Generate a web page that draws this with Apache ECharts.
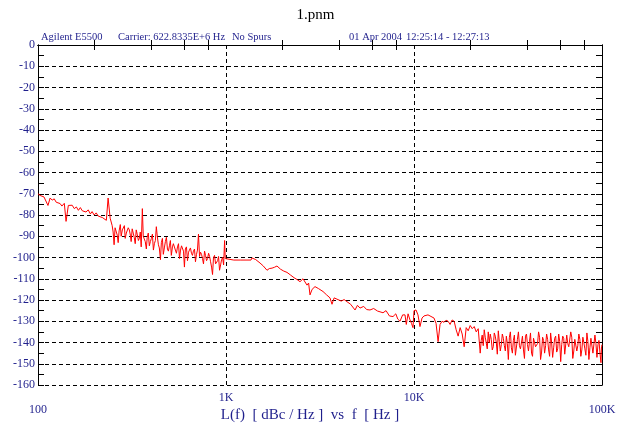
<!DOCTYPE html>
<html>
<head>
<meta charset="utf-8">
<title>1.pnm</title>
<script src="https://cdn.jsdelivr.net/npm/echarts@6/dist/echarts.min.js"></script>
<style>
  html, body { margin: 0; padding: 0; background: #fff; }
  #chart { width: 631px; height: 434px; }
</style>
</head>
<body>
<div id="chart"></div>
<script>
// offset frequency [Hz] and L(f) [dBc/Hz] in pieces
const freqLow = [100, 102.5, 105, 107.6, 110, 113, 116, 119, 122, 125,
  128, 131, 134, 138, 141, 145, 148, 152, 156, 160,
  164, 168, 172, 176, 180, 185, 190, 194, 199, 204,
  209, 214, 220, 225, 231, 236, 242, 248, 254, 261,
  267, 274, 281, 288, 295, 302, 310, 317, 325, 333,
  342, 350, 359, 368, 377, 386, 396, 406, 416, 426,
  437, 448, 459, 470, 482, 494, 506, 519, 532, 545,
  559, 573, 587, 601, 616, 632, 647, 663, 680, 697,
  714, 732, 750, 769, 788, 808, 828, 848, 869, 891,
  913, 936, 959, 983];
const dbLow = [-70.0, -70.8, -70.3, -71.5, -72.2, -75.5, -72.0, -73.0, -72.4, -74.0,
  -73.2, -74.6, -75.8, -74.5, -83.0, -75.5, -76.3, -75.4, -77.0, -76.2,
  -77.8, -76.5, -78.0, -77.2, -78.6, -77.6, -79.5, -78.4, -80.0, -79.0,
  -80.5, -79.6, -81.2, -80.4, -82.5, -72.0, -81.5, -85.0, -94.0, -85.5,
  -93.0, -84.5, -87.0, -85.0, -88.5, -86.0, -89.5, -86.5, -90.5, -87.0,
  -92.0, -88.0, -77.0, -89.5, -96.0, -88.5, -92.5, -89.0, -93.5, -85.5,
  -94.0, -101.0, -91.0, -95.5, -90.5, -97.0, -92.0, -95.0, -93.0, -98.0,
  -93.5, -96.5, -94.0, -104.5, -95.0, -97.5, -95.5, -99.0, -96.0, -98.5,
  -89.0, -97.5, -100.5, -97.0, -101.5, -98.0, -102.0, -108.0, -99.0, -102.5,
  -99.5, -103.5, -100.0, -92.0];

// extra samples in the dense 250 Hz - 1 kHz stretch
const freqLowFill = [251, 257, 264, 270, 277, 284, 291, 298, 306, 313,
  321, 329, 337, 346, 354, 363, 372, 381, 391, 401,
  411, 421, 431, 442, 453, 464, 476, 488, 500, 512,
  525, 538, 552, 566, 580, 594, 608, 624, 639, 655,
  671, 688, 705, 723, 741, 759, 778, 798, 818, 838,
  858, 880, 902, 924, 947, 971, 991];
const dbLowFill = [-88.0, -86.0, -89.5, -87.5, -90.0, -86.5, -91.0, -88.0, -87.0, -92.5,
  -88.5, -93.5, -89.0, -91.0, -95.0, -90.0, -92.5, -90.5, -94.5, -91.0,
  -96.5, -92.0, -90.0, -95.5, -93.0, -98.5, -92.5, -96.0, -94.5, -99.0,
  -93.5, -96.5, -95.0, -100.5, -94.5, -97.0, -96.0, -101.5, -96.5, -98.0,
  -97.0, -102.0, -96.5, -99.5, -98.5, -103.0, -99.0, -100.5, -99.5, -104.5,
  -100.0, -103.0, -101.5, -106.0, -101.0, -103.5, -100.5];

const freqMid = [1000, 1100, 1200, 1358, 1375, 1440, 1517, 1580, 1652, 1700,
  1757, 1810, 1867, 1950, 2030, 2111, 2200, 2300, 2400, 2476,
  2568, 2697, 2750, 2798, 2870, 2974, 3100, 3281, 3420, 3574,
  3663, 3760, 3893, 4100, 4250, 4401, 4600, 4857, 5000, 5162,
  5400, 5600, 5834, 6100, 6400, 6842, 7100, 7400, 7733, 8000,
  8200, 8425, 8700, 8957, 9100, 9300, 9522, 9700, 9878];
const dbMid = [-101.0, -101.2, -101.2, -101.2, -100.2, -101.0, -102.6, -104.0, -106.0, -105.2,
  -105.0, -104.6, -104.0, -105.5, -106.4, -107.0, -108.2, -109.5, -110.5, -111.4,
  -110.0, -113.0, -112.0, -117.6, -115.0, -113.7, -114.6, -116.0, -117.5, -119.0,
  -122.0, -119.0, -119.6, -120.5, -119.8, -120.8, -122.0, -124.7, -122.5, -123.8,
  -123.0, -124.5, -124.7, -124.0, -125.2, -126.0, -125.0, -127.5, -127.8, -126.5,
  -129.0, -130.0, -127.0, -127.0, -131.5, -126.5, -129.4, -131.0, -133.0];

const freqHigh = [10000, 10250, 10500, 10760, 11030, 11300, 11580, 11870, 12170, 12470,
  12780, 13100, 13430, 13760, 14100, 14450, 14810, 15180, 15560, 15950,
  16350, 16760, 17170, 17600, 18040, 18490, 18950, 19420, 19900, 20400,
  20910, 21430, 21960, 22500, 23060, 23640, 24230, 24830, 25450, 26080,
  26730, 27400, 28080, 28780, 29500, 30240, 30990, 31760, 32560, 33370,
  34200, 35050, 35930, 36830, 37750, 38690, 39650, 40640, 41660, 42700,
  43760, 44860, 45980, 47120, 48300, 49500, 50740, 52010, 53300, 54630,
  56000, 57400, 58830, 60300, 61800, 63350, 64930, 66550, 68210, 69910,
  71660, 73450, 75280, 77160, 79090, 81070, 83090, 85170, 87300, 89480,
  91710, 94000, 96350, 98760, 100000];
const dbHigh = [-125.0, -124.7, -127.0, -132.5, -128.5, -127.5, -128.0, -127.0, -127.5, -127.2,
  -128.5, -131.0, -139.6, -131.5, -130.0, -130.5, -129.5, -130.0, -131.5, -129.4,
  -130.0, -134.0, -137.0, -133.0, -136.0, -142.0, -133.0, -134.5, -132.0, -133.5,
  -132.5, -135.0, -133.5, -145.0, -136.5, -134.0, -138.0, -135.0, -136.0, -143.5,
  -135.5, -140.0, -134.5, -144.0, -136.0, -141.5, -137.0, -148.0, -135.0, -145.0,
  -136.5, -146.0, -135.0, -143.0, -137.0, -147.5, -136.0, -144.0, -135.5, -146.5,
  -138.0, -142.5, -135.0, -148.0, -137.5, -145.0, -136.0, -143.5, -135.5, -147.0,
  -138.0, -144.5, -136.0, -149.0, -137.0, -145.5, -136.5, -142.0, -135.0, -147.5,
  -138.5, -144.0, -136.0, -146.5, -137.5, -143.0, -135.5, -148.0, -138.0, -145.0,
  -136.5, -147.0, -139.0, -149.5, -141.0];

// extra samples in the noise floor above 22 kHz
const freqHighFill = [22780, 23350, 23930, 24530, 25140, 25760, 26400, 27060, 27740, 28430,
  29140, 29870, 30610, 31370, 32160, 32960, 33780, 34620, 35490, 36380,
  37290, 38220, 39170, 40140, 41150, 42180, 43230, 44310, 45420, 46550,
  47710, 48900, 50120, 51370, 52650, 53960, 55310, 56700, 58110, 59560,
  61050, 62570, 64140, 65740, 67380, 69060, 70780, 72550, 74360, 76220,
  78120, 80070, 82080, 84130, 86230, 88390, 90590, 92850, 95170, 97550,
  99380];
const dbHighFill = [-139.0, -141.5, -137.5, -143.0, -140.0, -138.5, -142.0, -137.0, -145.5, -139.5,
  -141.0, -138.0, -144.0, -140.5, -137.5, -142.5, -139.0, -146.0, -138.5, -141.5,
  -140.0, -143.5, -137.0, -141.0, -139.5, -145.0, -138.0, -142.0, -140.5, -137.5,
  -144.5, -139.0, -141.5, -138.5, -146.5, -140.0, -142.5, -137.0, -143.0, -139.5,
  -141.0, -138.0, -145.5, -140.5, -142.0, -137.5, -144.0, -139.0, -141.5, -138.5,
  -143.5, -140.0, -146.0, -139.5, -142.5, -138.0, -144.5, -140.5, -141.0, -145.0,
  -142.0];

// axis ticks
const xDecades = [100, 1000, 10000, 100000];
const xDecadeText = ['100', '1K', '10K', '100K'];
const xMinorTicks = [200, 400, 600, 800, 2000, 4000, 6000, 8000, 20000, 40000, 60000, 80000];

const blue = '#1f1f8c';
const serif = 'Liberation Serif';
const black = '#000';

const zip = (fs, vs) => fs.map((f, i) => [f, vs[i]]);
const trace = zip(freqLow, dbLow).concat(
  zip(freqLowFill, dbLowFill),
  zip(freqMid, dbMid),
  zip(freqHigh, dbHigh),
  zip(freqHighFill, dbHighFill)
).sort((a, b) => a[0] - b[0]);

const chart = echarts.init(document.getElementById('chart'));

const logAxis = {
  type: 'log',
  logBase: 10,
  min: 100,
  max: 100000,
  gridIndex: 0
};

const headerText = (text, left) => ({
  text: text,
  left: left,
  top: 32,
  padding: 0,
  textStyle: { color: blue, fontFamily: serif, fontSize: 10.5, fontWeight: 'normal' }
});

// y axes: the labelled/gridded one and the 5 dB tick ones
const yBase = (position) => ({
  type: 'value',
  position: position,
  min: -160,
  max: 0,
  axisLine: { show: true, lineStyle: { color: black, width: 1 } },
  axisLabel: { show: false },
  splitLine: { show: false }
});

chart.setOption({
  backgroundColor: '#fff',
  animation: false,
  title: [
    {
      text: '1.pnm',
      left: 'center',
      top: 8,
      padding: 0,
      textStyle: { color: black, fontFamily: serif, fontSize: 15, fontWeight: 'normal' }
    },
    headerText('Agilent E5500', 41),
    headerText('Carrier: 622.8335E+6 Hz', 118),
    headerText('No Spurs', 232),
    headerText('01 Apr 2004', 349),
    headerText('12:25:14 - 12:27:13', 406)
  ],
  grid: { left: 38, right: 29, top: 45, bottom: 49, containLabel: false, outerBoundsMode: 'none' },
  xAxis: [
    Object.assign({}, logAxis, {
      position: 'bottom',
      axisLine: { show: true, lineStyle: { color: black, width: 1 } },
      axisTick: { show: false },
      axisLabel: {
        color: blue,
        fontFamily: serif,
        fontSize: 12,
        margin: 7,
        formatter: v => {
          const i = xDecades.findIndex(d => Math.abs(d - v) / d < 1e-6);
          const s = i >= 0 ? xDecadeText[i] : '';
          return (i === 0 || i === 3) ? '{low|' + s + '}' : '{up|' + s + '}';
        },
        rich: {
          up: { color: blue, fontFamily: serif, fontSize: 12 },
          low: { color: blue, fontFamily: serif, fontSize: 12, padding: [12, 0, 0, 0] }
        }
      },
      splitLine: { show: true, lineStyle: { color: black, type: [4, 3], width: 1 } },
      name: 'L(f)  [ dBc / Hz ]  vs  f  [ Hz ]',
      nameLocation: 'middle',
      nameGap: 23,
      nameMoveOverlap: false,
      nameTextStyle: { color: blue, fontFamily: serif, fontSize: 15, padding: [0, 20, 0, 0] }
    }),
    Object.assign({}, logAxis, {
      position: 'bottom',
      axisLine: { show: true, lineStyle: { color: black, width: 1 } },
      axisTick: { show: true, inside: true, length: 5, customValues: xMinorTicks, lineStyle: { color: black } },
      axisLabel: { show: false },
      splitLine: { show: false }
    }),
    Object.assign({}, logAxis, {
      position: 'top',
      axisLine: { show: true, lineStyle: { color: black, width: 1 } },
      axisTick: { show: true, inside: true, length: 5, customValues: xMinorTicks, lineStyle: { color: black } },
      axisLabel: { show: false },
      splitLine: { show: false }
    })
  ],
  yAxis: [
    Object.assign(yBase('left'), {
      interval: 10,
      axisTick: { show: false },
      axisLabel: { show: true, color: blue, fontFamily: serif, fontSize: 12, margin: 3 },
      splitLine: { show: true, lineStyle: { color: black, type: [4, 3], width: 1 } }
    }),
    Object.assign(yBase('right'), {
      interval: 10,
      axisTick: { show: false }
    }),
    Object.assign(yBase('left'), {
      interval: 5,
      axisTick: { show: true, inside: true, length: 6, lineStyle: { color: black } }
    }),
    Object.assign(yBase('right'), {
      interval: 5,
      axisTick: { show: true, inside: true, length: 6, lineStyle: { color: black } }
    })
  ],
  series: [
    {
      name: 'L(f)',
      type: 'line',
      xAxisIndex: 0,
      yAxisIndex: 0,
      data: trace,
      showSymbol: false,
      symbol: 'none',
      lineStyle: { color: '#ff0000', width: 1 },
      z: 3
    }
  ]
});
</script>
</body>
</html>
